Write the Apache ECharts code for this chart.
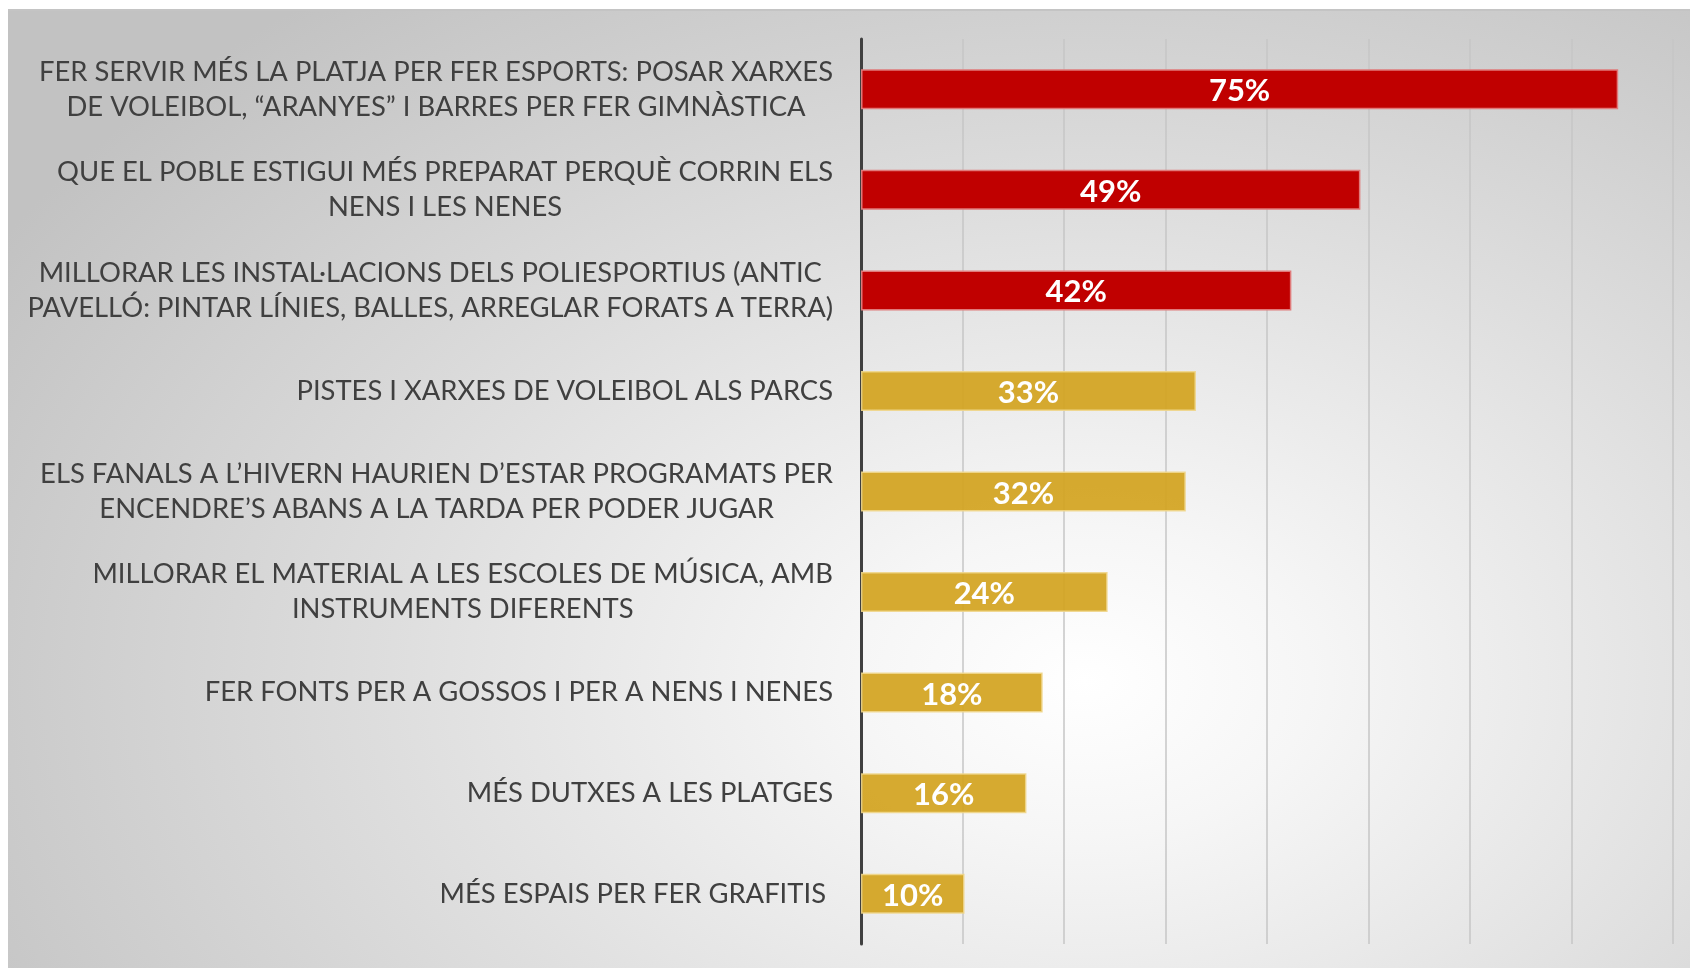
<!DOCTYPE html>
<html>
<head>
<meta charset="utf-8">
<script src="https://cdn.jsdelivr.net/npm/echarts@6/dist/echarts.min.js"></script>
<style>
  html, body { margin: 0; padding: 0; background: #fff; }
  #panel {
    position: absolute; left: 8px; top: 9px; right: 0; bottom: 0;
    border-top: 2px solid #c4c4c4;
    background: radial-gradient(ellipse 75% 90% at 64% 70%, #ffffff 0%, #f6f6f6 18%, #dedede 55%, #c2c2c2 100%);
  }
  #chart { position: absolute; left: 0; top: 0; width: 1690px; height: 968px; }
</style>
</head>
<body>
<div id="panel"></div>
<div id="chart"></div>
<script>
// categories, top to bottom
const categories = [
  'FER SERVIR MÉS LA PLATJA PER FER ESPORTS: POSAR XARXES\nDE VOLEIBOL, “ARANYES” I BARRES PER FER GIMNÀSTICA',
  'QUE EL POBLE ESTIGUI MÉS PREPARAT PERQUÈ CORRIN ELS\nNENS I LES NENES',
  'MILLORAR LES INSTAL·LACIONS DELS POLIESPORTIUS (ANTIC\nPAVELLÓ: PINTAR LÍNIES, BALLES, ARREGLAR FORATS A TERRA)',
  'PISTES I XARXES DE VOLEIBOL ALS PARCS',
  'ELS FANALS A L’HIVERN HAURIEN D’ESTAR PROGRAMATS PER\nENCENDRE’S ABANS A LA TARDA PER PODER JUGAR',
  'MILLORAR EL MATERIAL A LES ESCOLES DE MÚSICA, AMB\nINSTRUMENTS DIFERENTS',
  'FER FONTS PER A GOSSOS I PER A NENS I NENES',
  'MÉS DUTXES A LES PLATGES',
  'MÉS ESPAIS PER FER GRAFITIS '
]
// bar lengths (percent)
const values = [74.6, 49.2, 42.4, 33.0, 32.0, 24.3, 17.9, 16.3, 10.2]
// first 3 red, rest gold
const highlighted = [true, true, true, false, false, false, false, false, false]

const red = '#c00000'
const gold = 'rgba(210,163,30,0.92)'

const chart = echarts.init(document.getElementById('chart'))

const options = {
  animation: false,
  grid: {
    left: 861,
    right: 17,
    top: 39,
    bottom: 24,
    containLabel: false
  },
  xAxis: {
    type: 'value',
    min: 0,
    max: 80,
    interval: 10,
    axisLine: { show: false },
    axisTick: { show: false },
    axisLabel: { show: false },
    splitLine: { show: true, lineStyle: { color: '#c6c6c6', width: 1.5 } }
  },
  yAxis: {
    type: 'category',
    inverse: true,
    data: categories,
    axisLine: { show: true, lineStyle: { color: '#404040', width: 3 } },
    axisTick: { show: false },
    axisLabel: {
      margin: 28,
      color: '#404040',
      fontFamily: 'Lato',
      fontSize: 27.4,
      lineHeight: 35,
      formatter: (v) => v.split('\n').map(l => '{c|' + l + '}').join('\n'),
      rich: {
        c: { align: 'center', color: '#404040', fontFamily: 'Lato', fontSize: 27.4, lineHeight: 35 }
      }
    }
  },
  series: [{
    type: 'bar',
    barWidth: 40,
    data: values.map((v, i) => ({
      value: v,
      itemStyle: highlighted[i]
        ? { color: red, borderColor: '#e07a7a', borderWidth: 1.5 }
        : { color: gold, borderColor: 'rgba(240,214,140,0.9)', borderWidth: 1.5 }
    })),
    label: {
      show: true,
      position: 'inside',
      offset: [0, 2],
      formatter: (p) => Math.round(p.value) + '%',
      color: '#fff',
      fontFamily: 'Lato',
      fontWeight: 'bold',
      fontSize: 31
    }
  }]
}

chart.setOption(options)
</script>
</body>
</html>
